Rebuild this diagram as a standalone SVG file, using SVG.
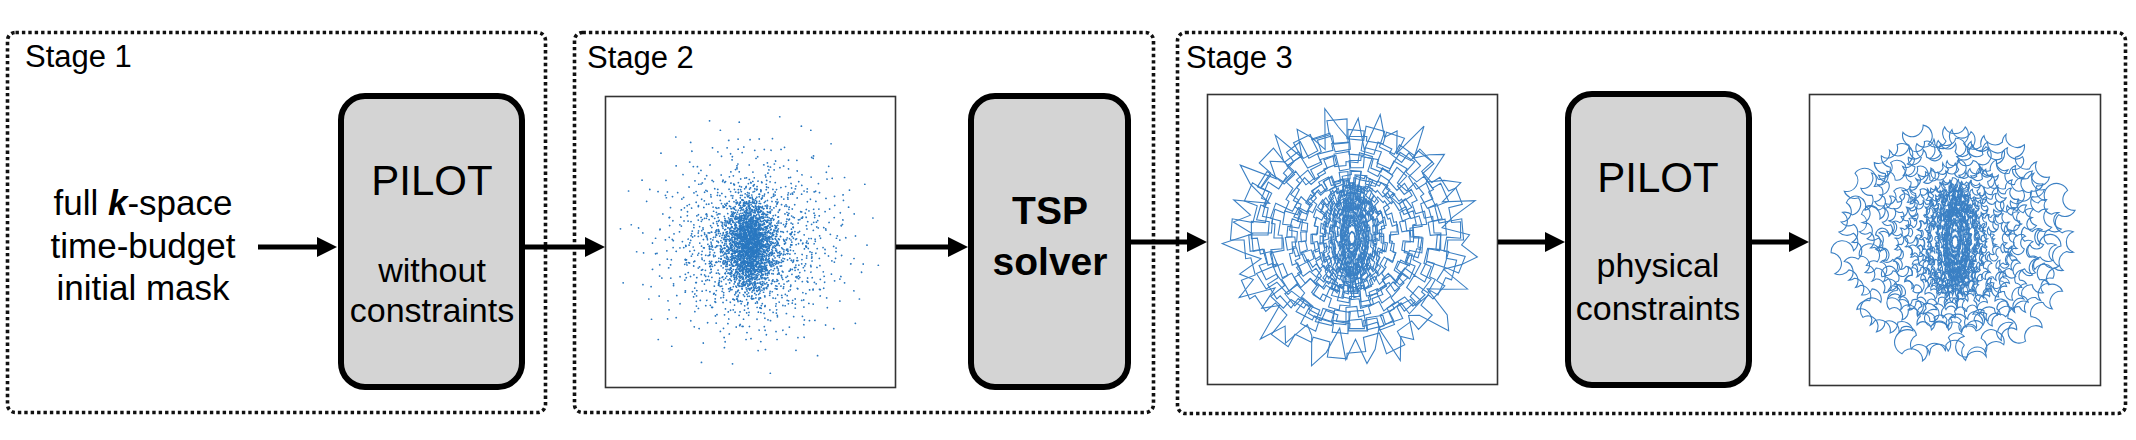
<svg xmlns="http://www.w3.org/2000/svg" xmlns:xlink="http://www.w3.org/1999/xlink" width="2136" height="440" viewBox="0 0 2136 440">
<style>
.stage{fill:none;stroke:#111;stroke-width:3.6;stroke-dasharray:3.4 3}
.lbl{font-family:"Liberation Sans",Arial,sans-serif;font-size:31px;fill:#000}
.txt{font-family:"Liberation Sans",Arial,sans-serif;font-size:35px;fill:#000;text-anchor:middle}
.box{fill:#d4d4d4;stroke:#000;stroke-width:6}
.big{font-family:"Liberation Sans",Arial,sans-serif;font-size:42px;fill:#000;text-anchor:middle}
.small{font-family:"Liberation Sans",Arial,sans-serif;font-size:34px;fill:#000;text-anchor:middle}
.bold{font-family:"Liberation Sans",Arial,sans-serif;font-size:39px;font-weight:bold;fill:#000;text-anchor:middle}
.plot{fill:#fff;stroke:#333;stroke-width:1.6}
.arrow{stroke:#000;stroke-width:5;fill:none;marker-end:url(#ah)}
</style>
<defs>
<marker id="ah" markerWidth="20" markerHeight="20" refX="5" refY="10" orient="auto" markerUnits="userSpaceOnUse"><path d="M0,0 L20,10 L0,20 z" fill="#000"/></marker>
<path id="pts" vector-effect="non-scaling-stroke" fill="none" stroke="#2a78c0" stroke-width="1.7" stroke-linecap="round" d="M12 -45h.1M-67 23h.1M34 78h.1M-8 -91h.1M56 -12h.1M-39 -58h.1M81 40h.1M-88 -15h.1M3 22h.1M47 -66h.1M-22 64h.1M70 -50h.1M-55 -80h.1M25 5h.1M-73 55h.1M91 -20h.1M-31 -9h.1M15 95h.1M-5 -33h.1M62 62h.1M-48 35h.1M38 -88h.1M-94 28h.1M8 50h.1M-17 -72h.1M77 10h.1M-62 -35h.1M29 -28h.1M-36 87h.1M52 33h.1M-80 -48h.1M18 -60h.1M-12 8h.1M44 56h.1M-70 -5h.1M60 -75h.1M-26 42h.1M85 -45h.1M-45 -30h.1M5 -12h.1M-58 75h.1M36 25h.1M-90 -40h.1M22 -95h.1M-3 70h.1M73 -28h.1M-41 12h.1M50 82h.1M-20 -48h.1M95 15h.1M-66 -68h.1M10 35h.1M-30 -92h.1M40 -40h.1M-68 70h.1M30 -8h.1M-15 25h.1M64 -5h.1M-52 -15h.1M20 70h.1M-9 -60h.1M78 58h.1M-84 5h.1M48 -22h.1M-27 -25h.1M-60 48h.1M0 -78h.1M26 45h.1M-44 -76h.1M70 28h.1M-13 88h.1M45 -85h.1M-96 -12h.1M-6 -5h.1M15 -25h.1M-38 -45h.1M-22 -85h.1M42 8h.1M-75 40h.1M-18 -18h.1"/>
<path id="star" vector-effect="non-scaling-stroke" fill="none" stroke="#3b80c4" stroke-width="1.1" d="M100 0L85.7 7.5L110.3 19.5L90.8 24.3L75.2 27.4L97.8 45.7L102.2 59L73.7 51.7L64.3 54L73.5 73.5L61.7 73.5L66 94.2L41 71L41.9 89.7L37.6 103.4L22.8 85L18.4 104.4L6.9 78.7L0 102L-10.2 116.5L-16 90.6L-22 82.1L-37.3 102.4L-41 87.9L-60 103.9L-49.9 71.3L-64.9 77.4L-57.3 57.3L-86.6 72.6L-77.8 54.5L-90.9 52.5L-75.2 35.1L-92.1 33.5L-112 30L-87.6 15.5L-106.6 9.3L-93 0L-110.6 -9.7L-78.8 -13.9L-99.5 -26.7L-111.8 -40.7L-77.9 -36.3L-86.6 -50L-74.5 -52.2L-87.3 -73.3L-59.4 -59.4L-69.4 -82.7L-55.1 -78.6L-41 -71L-49.4 -106L-33.9 -93L-22.8 -85L-18.4 -104.4L-6.9 -78.7L0 -112L8.2 -93.6L17.9 -101.4L22 -82.1L40.4 -110.9L38 -81.6L50.5 -87.5L63.7 -90.9L53.4 -63.6L68.6 -68.6L83.5 -70.1L71.3 -49.9L99.6 -57.5L83.4 -38.9L76.1 -27.7L101.4 -27.2L96.5 -17L112.6 -9.8Z"/>
<path id="jig" vector-effect="non-scaling-stroke" fill="none" stroke="#3b80c4" stroke-width="1.1" d="M106 0L100 0L98.5 17.4L90.6 16L86.5 31.5L99.6 36.3L91.8 53L83.1 48L73.5 61.7L84.3 70.7L70.7 84.3L57.9 68.9L45 77.9L51.5 89.2L35.2 96.8L36.9 101.5L18.8 106.4L16.4 92.6L0 94L0 99L-17.2 97.5L-19.5 110.3L-38.3 105.3L-30.4 83.7L-44.5 77.1L-50.5 87.5L-64.9 77.4L-68.8 82L-82 68.8L-71.2 59.8L-80.5 46.5L-84.9 49L-92.1 33.5L-104.3 38L-109.3 19.3L-89.6 15.8L-91 0L-104 0L-102.4 -18.1L-93.6 -16.5L-89.3 -32.5L-102.5 -37.3L-94.4 -54.5L-76.2 -44L-67.4 -56.6L-78.1 -65.6L-65.6 -78.1L-62.4 -74.3L-48.5 -84L-55 -95.3L-37.6 -103.4L-31.5 -86.5L-16 -90.6L-18.3 -103.4L0 -105L0 -90L15.7 -88.7L17.4 -98.5L34.2 -94L36.9 -101.5L54 -93.5L47 -81.4L60.4 -72L66.2 -78.9L78.9 -66.2L68.2 -57.2L77.1 -44.5L96.1 -55.5L104.3 -38L90.2 -32.8L94.6 -16.7L104.4 -18.4Z"/>
<path id="wave" vector-effect="non-scaling-stroke" fill="none" stroke="#3b80c4" stroke-width="1.1" d="M106 0A10 10 0 0 1 100 0A10 10 0 0 0 98.5 17.4A10 10 0 0 1 90.6 16A10 10 0 0 0 86.5 31.5A10 10 0 0 1 99.6 36.3A10 10 0 0 0 91.8 53A10 10 0 0 1 83.1 48A10 10 0 0 0 73.5 61.7A10 10 0 0 1 84.3 70.7A10 10 0 0 0 70.7 84.3A10 10 0 0 1 57.9 68.9A10 10 0 0 0 45 77.9A10 10 0 0 1 51.5 89.2A10 10 0 0 0 35.2 96.8A10 10 0 0 1 36.9 101.5A10 10 0 0 0 18.8 106.4A10 10 0 0 1 16.4 92.6A10 10 0 0 0 0 94A10 10 0 0 1 0 99A10 10 0 0 0 -17.2 97.5A10 10 0 0 1 -19.5 110.3A10 10 0 0 0 -38.3 105.3A10 10 0 0 1 -30.4 83.7A10 10 0 0 0 -44.5 77.1A10 10 0 0 1 -50.5 87.5A10 10 0 0 0 -64.9 77.4A10 10 0 0 1 -68.8 82A10 10 0 0 0 -82 68.8A10 10 0 0 1 -71.2 59.8A10 10 0 0 0 -80.5 46.5A10 10 0 0 1 -84.9 49A10 10 0 0 0 -92.1 33.5A10 10 0 0 1 -104.3 38A10 10 0 0 0 -109.3 19.3A10 10 0 0 1 -89.6 15.8A10 10 0 0 0 -91 0A10 10 0 0 1 -104 0A10 10 0 0 0 -102.4 -18.1A10 10 0 0 1 -93.6 -16.5A10 10 0 0 0 -89.3 -32.5A10 10 0 0 1 -102.5 -37.3A10 10 0 0 0 -94.4 -54.5A10 10 0 0 1 -76.2 -44A10 10 0 0 0 -67.4 -56.6A10 10 0 0 1 -78.1 -65.6A10 10 0 0 0 -65.6 -78.1A10 10 0 0 1 -62.4 -74.3A10 10 0 0 0 -48.5 -84A10 10 0 0 1 -55 -95.3A10 10 0 0 0 -37.6 -103.4A10 10 0 0 1 -31.5 -86.5A10 10 0 0 0 -16 -90.6A10 10 0 0 1 -18.3 -103.4A10 10 0 0 0 0 -105A10 10 0 0 1 0 -90A10 10 0 0 0 15.7 -88.7A10 10 0 0 1 17.4 -98.5A10 10 0 0 0 34.2 -94A10 10 0 0 1 36.9 -101.5A10 10 0 0 0 54 -93.5A10 10 0 0 1 47 -81.4A10 10 0 0 0 60.4 -72A10 10 0 0 1 66.2 -78.9A10 10 0 0 0 78.9 -66.2A10 10 0 0 1 68.2 -57.2A10 10 0 0 0 77.1 -44.5A10 10 0 0 1 96.1 -55.5A10 10 0 0 0 104.3 -38A10 10 0 0 1 90.2 -32.8A10 10 0 0 0 94.6 -16.7A10 10 0 0 1 104.4 -18.4A10 10 0 0 0 106 0Z"/>
<clipPath id="c1"><rect x="606" y="97" width="289" height="290"/></clipPath>
<clipPath id="c2"><rect x="1208" y="95" width="289" height="289"/></clipPath>
<clipPath id="c3"><rect x="1810" y="95" width="290" height="290"/></clipPath>
</defs>
<rect width="2136" height="440" fill="#fff"/>

<g id="stage1">
<rect class="stage" x="7.5" y="32.5" width="538" height="380" rx="8"/>
<text class="lbl" x="25" y="67">Stage 1</text>
</g>
<g id="stage2">
<rect class="stage" x="574.5" y="32.5" width="579" height="380" rx="8"/>
<text class="lbl" x="587" y="68">Stage 2</text>
</g>
<g id="stage3">
<rect class="stage" x="1177.5" y="32.5" width="948" height="381" rx="8"/>
<text class="lbl" x="1186" y="68">Stage 3</text>
</g>

<g id="input">
<text class="txt" x="143" y="215">full <tspan font-weight="bold" font-style="italic">k</tspan>-space</text>
<text class="txt" x="143" y="258">time-budget</text>
<text class="txt" x="143" y="300">initial mask</text>
</g>

<g id="pilot1">
<rect class="box" x="341" y="96" width="181" height="291" rx="24"/>
<text class="big" x="432" y="195">PILOT</text>
<text class="small" x="432" y="282">without</text>
<text class="small" x="432" y="322">constraints</text>
</g>

<g id="scatter">
<rect class="plot" x="605.5" y="96.5" width="290" height="291"/>
<g clip-path="url(#c1)">
<g transform="translate(750,245)">
<use href="#pts" transform="scale(1.35) rotate(0)"/>
<use href="#pts" transform="scale(1.2,1.1) rotate(77)"/>
<use href="#pts" transform="scale(1.1) rotate(23)"/>
<use href="#pts" transform="scale(1.0) rotate(47)"/>
<use href="#pts" transform="scale(0.95) rotate(131)"/>
<use href="#pts" transform="scale(0.9) rotate(71)"/>
<use href="#pts" transform="scale(0.85) rotate(157)"/>
<use href="#pts" transform="scale(0.8) rotate(97)"/>
<use href="#pts" transform="scale(0.77) rotate(203)"/>
<use href="#pts" transform="scale(0.73) rotate(119)"/>
<use href="#pts" transform="scale(0.69) rotate(229)"/>
<use href="#pts" transform="scale(0.66) rotate(143)"/>
<use href="#pts" transform="scale(0.62) rotate(251)"/>
<use href="#pts" transform="scale(0.59) rotate(169)"/>
<use href="#pts" transform="scale(0.55) rotate(277)"/>
<use href="#pts" transform="scale(0.52) rotate(191)"/>
<use href="#pts" transform="scale(0.48) rotate(301)"/>
<use href="#pts" transform="scale(0.45) rotate(217)"/>
<use href="#pts" transform="scale(0.42) rotate(323)"/>
<use href="#pts" transform="scale(0.39) rotate(239)"/>
<use href="#pts" transform="scale(0.36) rotate(349)"/>
<use href="#pts" transform="scale(0.33) rotate(263)"/>
<use href="#pts" transform="scale(0.3) rotate(7)"/>
<use href="#pts" transform="scale(0.27) rotate(287)"/>
<use href="#pts" transform="scale(0.24) rotate(31)"/>
<use href="#pts" transform="scale(0.2) rotate(311)"/>
<use href="#pts" transform="scale(0.22,0.5) rotate(13)"/>
<use href="#pts" transform="scale(0.28,0.6) rotate(58)"/>
<use href="#pts" transform="scale(0.18,0.42) rotate(103)"/>
<use href="#pts" transform="scale(0.3,0.45) rotate(149)"/>
<use href="#pts" transform="scale(0.14,0.35) rotate(197)"/>
<use href="#pts" transform="scale(0.24,0.55) rotate(241)"/>
<use href="#pts" transform="scale(0.2,0.3) rotate(286)"/>
<use href="#pts" transform="scale(0.12,0.25) rotate(331)"/>
<use href="#pts" transform="scale(0.16,0.45) rotate(53)"/>
<use href="#pts" transform="scale(0.26,0.4) rotate(79)"/>
<use href="#pts" transform="scale(0.2,0.52) rotate(127)"/>
<use href="#pts" transform="scale(0.1,0.3) rotate(173)"/>
<use href="#pts" transform="scale(0.18,0.36) rotate(221)"/>
<use href="#pts" transform="scale(0.25,0.62) rotate(269)"/>
<use href="#pts" transform="scale(0.13,0.46) rotate(317)"/>
<use href="#pts" transform="scale(0.3,0.7) rotate(11)"/>
<use href="#pts" transform="scale(0.08,0.2) rotate(41)"/>
<use href="#pts" transform="scale(0.15,0.28) rotate(97)"/>
<use href="#pts" transform="scale(0.2,0.4) rotate(187)"/>
<use href="#pts" transform="scale(0.11,0.38) rotate(263)"/>
<use href="#pts" transform="scale(0.22,0.48) rotate(347)"/>
</g>
</g>
</g>

<g id="tsp">
<rect class="box" x="971" y="96" width="157" height="291" rx="24"/>
<text class="bold" x="1050" y="224">TSP</text>
<text class="bold" x="1050" y="275">solver</text>
</g>

<g id="tour">
<rect class="plot" x="1207.5" y="94.5" width="290" height="290"/>
<g clip-path="url(#c2)">
<g transform="translate(1352,236)">
<use href="#star" transform="translate(0,3) scale(1.12,1.14) rotate(13)"/>
<use href="#jig" transform="translate(-5,4) scale(1.05,1.1) rotate(20)"/>
<use href="#jig" transform="translate(6,-6) scale(1.0,0.92) rotate(45)"/>
<use href="#jig" transform="translate(-4,-3) scale(0.86,0.95) rotate(70)"/>
<use href="#jig" transform="translate(5,6) scale(0.8,0.82) rotate(95)"/>
<use href="#jig" transform="translate(-6,2) scale(0.7,0.78) rotate(120)"/>
<use href="#jig" transform="translate(3,-5) scale(0.66,0.7) rotate(145)"/>
<use href="#jig" transform="translate(-2,6) scale(0.58,0.64) rotate(170)"/>
<use href="#jig" transform="translate(4,0) scale(0.52,0.6) rotate(195)"/>
<use href="#jig" transform="translate(-4,-4) scale(0.46,0.55) rotate(220)"/>
<use href="#jig" transform="translate(2,3) scale(0.4,0.5) rotate(245)"/>
<use href="#jig" transform="translate(-3,-2) scale(0.35,0.46) rotate(270)"/>
<use href="#jig" transform="translate(1,4) scale(0.3,0.42) rotate(295)"/>
<use href="#jig" transform="translate(-1,-3) scale(0.26,0.4) rotate(320)"/>
<use href="#jig" transform="translate(2,-1) scale(0.22,0.36) rotate(345)"/>
<use href="#jig" transform="translate(-2,1) scale(0.18,0.32) rotate(10)"/>
<use href="#jig" transform="translate(0,-2) scale(0.15,0.28) rotate(35)"/>
<use href="#jig" transform="translate(1,2) scale(0.12,0.24) rotate(60)"/>
<use href="#jig" transform="translate(-1,0) scale(0.09,0.2) rotate(85)"/>
<use href="#jig" transform="translate(0,1) scale(0.07,0.15) rotate(110)"/>
<use href="#jig" transform="translate(0,-1) scale(0.05,0.1) rotate(135)"/>
<use href="#jig" transform="translate(2,-3) scale(0.2,0.45) rotate(160)"/>
<use href="#jig" transform="translate(-2,3) scale(0.25,0.5) rotate(185)"/>
<use href="#jig" transform="translate(1,-1) scale(0.14,0.4) rotate(210)"/>
<use href="#jig" transform="translate(-1,2) scale(0.3,0.55) rotate(235)"/>
<use href="#jig" transform="translate(0,0) scale(0.1,0.33) rotate(260)"/>
<use href="#jig" transform="translate(3,1) scale(0.62,0.56) rotate(300)"/>
<use href="#jig" transform="translate(-3,-1) scale(0.92,0.86) rotate(330)"/>
<use href="#jig" transform="translate(0,-2) scale(0.06,0.25) rotate(15)"/>
<use href="#jig" transform="translate(1,1) scale(0.11,0.42) rotate(50)"/>
<use href="#jig" transform="translate(-1,-1) scale(0.17,0.5) rotate(95)"/>
<use href="#jig" transform="translate(0,3) scale(0.08,0.35) rotate(140)"/>
<use href="#jig" transform="translate(2,0) scale(0.13,0.3) rotate(190)"/>
<use href="#jig" transform="translate(-2,-2) scale(0.2,0.38) rotate(230)"/>
<use href="#jig" transform="translate(0,0) scale(0.04,0.18) rotate(280)"/>
<use href="#jig" transform="translate(1,-3) scale(0.1,0.15) rotate(330)"/>
<use href="#jig" transform="translate(0,2) scale(0.03,0.06) rotate(20)"/>
</g>
</g>
</g>

<g id="pilot2">
<rect class="box" x="1568" y="94" width="181" height="291" rx="24"/>
<text class="big" x="1658" y="192">PILOT</text>
<text class="small" x="1658" y="277">physical</text>
<text class="small" x="1658" y="320">constraints</text>
</g>

<g id="trajectory">
<rect class="plot" x="1809.5" y="94.5" width="291" height="291"/>
<g clip-path="url(#c3)">
<g transform="translate(1955,240)">
<use href="#wave" transform="translate(0,2) scale(1.12,1.1) rotate(5)"/>
<use href="#wave" transform="translate(-5,4) scale(1.0,1.04) rotate(31)"/>
<use href="#wave" transform="translate(6,-6) scale(0.93,0.88) rotate(57)"/>
<use href="#wave" transform="translate(-4,-3) scale(0.82,0.9) rotate(83)"/>
<use href="#wave" transform="translate(5,6) scale(0.76,0.78) rotate(109)"/>
<use href="#wave" transform="translate(-6,2) scale(0.67,0.74) rotate(135)"/>
<use href="#wave" transform="translate(3,-5) scale(0.62,0.67) rotate(161)"/>
<use href="#wave" transform="translate(-2,6) scale(0.55,0.61) rotate(187)"/>
<use href="#wave" transform="translate(4,0) scale(0.49,0.57) rotate(213)"/>
<use href="#wave" transform="translate(-4,-4) scale(0.43,0.52) rotate(239)"/>
<use href="#wave" transform="translate(2,3) scale(0.38,0.48) rotate(265)"/>
<use href="#wave" transform="translate(-3,-2) scale(0.33,0.44) rotate(291)"/>
<use href="#wave" transform="translate(1,4) scale(0.28,0.4) rotate(317)"/>
<use href="#wave" transform="translate(-1,-3) scale(0.24,0.38) rotate(343)"/>
<use href="#wave" transform="translate(2,-1) scale(0.2,0.34) rotate(9)"/>
<use href="#wave" transform="translate(-2,1) scale(0.16,0.3) rotate(35)"/>
<use href="#wave" transform="translate(0,-2) scale(0.13,0.26) rotate(61)"/>
<use href="#wave" transform="translate(1,2) scale(0.1,0.22) rotate(87)"/>
<use href="#wave" transform="translate(-1,0) scale(0.07,0.17) rotate(113)"/>
<use href="#wave" transform="translate(0,1) scale(0.05,0.11) rotate(139)"/>
<use href="#wave" transform="translate(2,-3) scale(0.19,0.44) rotate(165)"/>
<use href="#wave" transform="translate(-2,3) scale(0.24,0.5) rotate(191)"/>
<use href="#wave" transform="translate(1,-1) scale(0.13,0.39) rotate(217)"/>
<use href="#wave" transform="translate(-1,2) scale(0.29,0.55) rotate(243)"/>
<use href="#wave" transform="translate(0,0) scale(0.09,0.32) rotate(269)"/>
<use href="#wave" transform="translate(0,-2) scale(0.06,0.25) rotate(15)"/>
<use href="#wave" transform="translate(1,1) scale(0.11,0.42) rotate(50)"/>
<use href="#wave" transform="translate(-1,-1) scale(0.17,0.5) rotate(95)"/>
<use href="#wave" transform="translate(0,3) scale(0.08,0.35) rotate(140)"/>
<use href="#wave" transform="translate(2,0) scale(0.13,0.3) rotate(190)"/>
<use href="#wave" transform="translate(0,0) scale(0.04,0.18) rotate(280)"/>
<use href="#wave" transform="translate(0,2) scale(0.03,0.06) rotate(20)"/>
</g>
</g>
</g>

<g id="connectors">
<line class="arrow" x1="258" y1="247" x2="322" y2="247"/>
<line class="arrow" x1="524" y1="247" x2="590" y2="247"/>
<line class="arrow" x1="896" y1="247" x2="953" y2="247"/>
<line class="arrow" x1="1130" y1="242" x2="1192" y2="242"/>
<line class="arrow" x1="1498" y1="242" x2="1550" y2="242"/>
<line class="arrow" x1="1751" y1="242" x2="1794" y2="242"/>
</g>
</svg>
